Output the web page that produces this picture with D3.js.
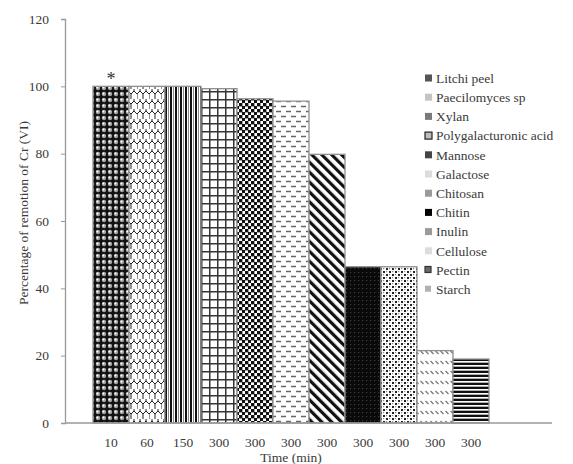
<!DOCTYPE html>
<html>
<head>
<meta charset="utf-8">
<script src="https://cdn.jsdelivr.net/npm/d3@7"></script>
<style>
  body { margin: 0; background: #fff; }
  svg text { font-family: "Liberation Serif", "Times New Roman", "DejaVu Serif", serif !important; }
</style>
</head>
<body>
<svg id="chart" width="573" height="464"></svg>
<script>
// data
var materials = ["Litchi peel", "Paecilomyces sp", "Xylan", "Polygalacturonic acid", "Mannose",
                 "Galactose", "Chitosan", "Chitin", "Inulin", "Cellulose", "Pectin", "Starch"];
var times = ["10", "60", "150", "300", "300", "300", "300", "300", "300", "300", "300"];
var removal = [100, 100, 100, 99.3, 96.3, 95.6, 79.8, 46.4, 46.4, 21.5, 19.0];
var yTicks = [0, 20, 40, 60, 80, 100, 120];

var svg = d3.select("#chart"),
    margin = {top: 19, left: 65, bottom: 41},
    axisEnd = 552,
    height = 464 - margin.top - margin.bottom,
    g = svg.append("g").attr("transform", "translate(" + margin.left + "," + margin.top + ")");

var textCol = "#3a3a3a",
    serif = "Liberation Serif, Times New Roman, serif";

// ---- patterns ----
var defs = svg.append("defs");
function pat(id, w, h, rot) {
  var p = defs.append("pattern").attr("id", id).attr("patternUnits", "userSpaceOnUse")
    .attr("width", w).attr("height", h);
  if (rot) p.attr("patternTransform", "rotate(" + rot + ")");
  return p;
}
var p;
// litchi peel: dark with light spheres
p = pat("p0", 6, 6);
p.append("rect").attr("width", 6).attr("height", 6).attr("fill", "#111");
p.append("circle").attr("cx", 3).attr("cy", 3).attr("r", 2.2).attr("fill", "#a0a0a0");
p.append("circle").attr("cx", 2.4).attr("cy", 2.4).attr("r", 1).attr("fill", "#fff");
// paecilomyces: shingle
p = pat("p1", 12, 10);
p.append("rect").attr("width", 12).attr("height", 10).attr("fill", "#fff");
p.append("path").attr("d", "M0,5 L3,2 L6,5 L9,2 L12,5 M3,2 L3,0 M9,2 L9,0 M0,10 L0,5 M6,10 L6,5")
  .attr("fill", "none").attr("stroke", "#222").attr("stroke-width", 1);
// xylan: vertical stripes
p = pat("p2", 5, 5);
p.append("rect").attr("width", 5).attr("height", 5).attr("fill", "#fff");
p.append("rect").attr("width", 2).attr("height", 5).attr("fill", "#111");
p.append("rect").attr("x", 3).attr("width", 1).attr("height", 5).attr("fill", "#888");
// polygalacturonic acid: grid
p = pat("p3", 8, 8);
p.append("rect").attr("width", 8).attr("height", 8).attr("fill", "#fff");
p.append("path").attr("d", "M0.75,0 V8 M0,0.75 H8").attr("stroke", "#333").attr("stroke-width", 1.5);
// mannose: checkerboard
p = pat("p4", 6, 6);
p.append("rect").attr("width", 6).attr("height", 6).attr("fill", "#fff");
p.append("rect").attr("width", 3.4).attr("height", 3.4).attr("fill", "#111");
p.append("rect").attr("x", 3).attr("y", 3).attr("width", 3.4).attr("height", 3.4).attr("fill", "#111");
// galactose: dashed horizontals
p = pat("p5", 10, 10);
p.append("rect").attr("width", 10).attr("height", 10).attr("fill", "#fff");
p.append("path").attr("d", "M1,2.5 H6 M6,7.5 H11 M-4,7.5 H1").attr("stroke", "#666").attr("stroke-width", 1.3);
// chitosan: wide downward diagonal
p = pat("p6", 7, 7, -45);
p.append("rect").attr("width", 7).attr("height", 7).attr("fill", "#fff");
p.append("rect").attr("width", 3.2).attr("height", 7).attr("fill", "#111");
// chitin: black with dark dots
p = pat("p7", 4, 4);
p.append("rect").attr("width", 4).attr("height", 4).attr("fill", "#0a0a0a");
p.append("rect").attr("x", 1).attr("y", 1).attr("width", 1.2).attr("height", 1.2).attr("fill", "#3a3a3a");
// inulin: small confetti
p = pat("p8", 6, 6);
p.append("rect").attr("width", 6).attr("height", 6).attr("fill", "#fff");
p.append("rect").attr("width", 2).attr("height", 2).attr("fill", "#222");
p.append("rect").attr("x", 3).attr("y", 3).attr("width", 2).attr("height", 2).attr("fill", "#222");
p.append("rect").attr("x", 3).attr("y", 0).attr("width", 1.2).attr("height", 1.2).attr("fill", "#888");
p.append("rect").attr("x", 0).attr("y", 3).attr("width", 1.2).attr("height", 1.2).attr("fill", "#888");
// cellulose: small diagonal dashes
p = pat("p9", 5, 10);
p.append("rect").attr("width", 5).attr("height", 10).attr("fill", "#fff");
p.append("path").attr("d", "M0.5,2 L3.5,5").attr("stroke", "#777").attr("stroke-width", 1.2);
// pectin: horizontal stripes
p = pat("p10", 4, 4);
p.append("rect").attr("width", 4).attr("height", 4).attr("fill", "#fff");
p.append("rect").attr("width", 4).attr("height", 2).attr("fill", "#111");
p.append("rect").attr("y", 3).attr("width", 4).attr("height", 0.8).attr("fill", "#999");

// ---- scales ----
var x = d3.scaleBand()
    .domain(d3.range(times.length))
    .range([28, 424])
    .padding(0);

var y = d3.scaleLinear()
    .domain([0, 120])
    .range([height, 0]);

// y axis
var yAx = g.append("g")
  .call(d3.axisLeft(y).tickValues(yTicks).tickSize(4).tickSizeOuter(4).tickPadding(12))
  .attr("font-family", serif).attr("font-size", 13.5);
yAx.select(".domain").attr("stroke", "#999").attr("stroke-width", 1.3);
yAx.selectAll(".tick line").attr("stroke", "#999");
yAx.selectAll("text").attr("fill", textCol);

// bars
g.selectAll(".bar")
  .data(removal)
  .enter().append("rect")
    .attr("class", "bar")
    .attr("x", function(d, i) { return x(i); })
    .attr("y", function(d) { return y(d); })
    .attr("width", x.bandwidth())
    .attr("height", function(d) { return height - y(d); })
    .attr("fill", function(d, i) { return "url(#p" + i + ")"; })
    .attr("stroke", "#909090")
    .attr("stroke-width", 1.3);

// x axis
var xAx = g.append("g")
  .attr("transform", "translate(0," + height + ")")
  .call(d3.axisBottom(x).tickSize(0).tickPadding(14).tickFormat(function(i) { return times[i]; }))
  .attr("font-family", serif).attr("font-size", 13.5);
xAx.select(".domain").remove();
xAx.selectAll("text").attr("fill", textCol);
g.append("line")
  .attr("x1", 0).attr("x2", axisEnd - margin.left)
  .attr("y1", height).attr("y2", height)
  .attr("stroke", "#999").attr("stroke-width", 1.5);

// significance mark
g.append("text")
  .attr("x", x(0) + x.bandwidth() / 2)
  .attr("y", y(removal[0]) - 1)
  .attr("text-anchor", "middle")
  .attr("fill", "#333")
  .attr("font-family", serif)
  .attr("font-size", 18)
  .text("*");

// axis titles
svg.append("text")
  .attr("transform", "translate(23," + (margin.top + height / 2 - 8) + ") rotate(-90)")
  .attr("text-anchor", "middle")
  .attr("dy", "0.35em")
  .attr("fill", textCol)
  .attr("font-family", serif)
  .attr("font-size", 13.5)
  .text("Percentage of remotion of Cr (VI)");

svg.append("text")
  .attr("x", margin.left + (x(0) + x(times.length - 1) + x.bandwidth()) / 2)
  .attr("y", 462)
  .attr("text-anchor", "middle")
  .attr("fill", textCol)
  .attr("font-family", serif)
  .attr("font-size", 13.5)
  .text("Time (min)");

// legend
var legendFill = ["#555", "#c4c4c4", "#7a7a7a", "#bdbdbd", "#444", "#dcdcdc",
                  "#9a9a9a", "#000", "#9a9a9a", "#dcdcdc", "#6a6a6a", "#b0b0b0"];
var legend = svg.append("g").attr("transform", "translate(425,78)");
var item = legend.selectAll(".item")
  .data(materials)
  .enter().append("g")
    .attr("class", "item")
    .attr("transform", function(d, i) { return "translate(0," + (i * 19.2) + ")"; });
item.append("rect")
  .attr("x", 0).attr("y", -3.5)
  .attr("width", function(d, i) { return i >= 10 ? 6 : 7; })
  .attr("height", function(d, i) { return i >= 10 ? 6 : 7; })
  .attr("fill", function(d, i) { return legendFill[i]; })
  .attr("stroke", function(d, i) { return i === 3 ? "#222" : (i === 10 ? "#333" : "none"); })
  .attr("stroke-width", 1.2);
item.append("text")
  .attr("x", 11)
  .attr("dy", "0.35em")
  .attr("fill", textCol)
  .attr("font-family", serif)
  .attr("font-size", 13.5)
  .text(function(d) { return d; });
</script>
</body>
</html>
